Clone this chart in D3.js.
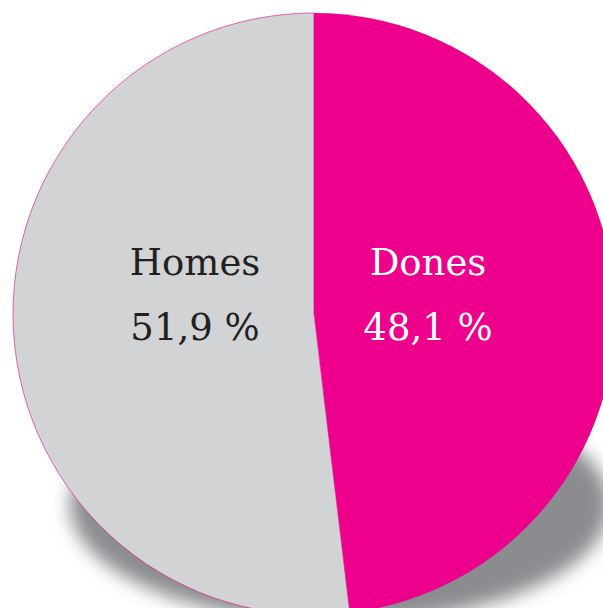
<!DOCTYPE html>
<html>
<head>
<meta charset="utf-8">
<script src="https://cdn.jsdelivr.net/npm/d3@7"></script>
<style>
  html, body { margin: 0; padding: 0; background: #fff; }
</style>
</head>
<body>
<div id="chart"></div>
<script>
const categories = ["Dones", "Homes"]
const values = [48.1, 51.9]
const valueLabels = ["48,1 %", "51,9 %"]
const colors = ["#ec008c", "#d1d3d4"]
const textColors = ["#ffffff", "#231f20"]

const width = 603
const height = 608
const cx = 314, cy = 314, radius = 301

const svg = d3.select("#chart").append("svg")
    .attr("width", width)
    .attr("height", height)

const defs = svg.append("defs")
defs.append("filter")
    .attr("id", "blur")
    .attr("x", "-30%").attr("y", "-30%")
    .attr("width", "160%").attr("height", "160%")
  .append("feGaussianBlur")
    .attr("stdDeviation", 9)

// drop shadow under the pie
svg.append("ellipse")
    .attr("cx", 340).attr("cy", 505)
    .attr("rx", 270).attr("ry", 118)
    .attr("fill", "#8a8c8f")
    .attr("filter", "url(#blur)")

const pie = d3.pie().sort(null).value(d => d)
const arc = d3.arc().innerRadius(0).outerRadius(radius)

const g = svg.append("g")
    .attr("transform", `translate(${cx},${cy})`)

const arcs = pie(values)

g.selectAll("path").data(arcs).enter().append("path")
    .attr("d", arc)
    .attr("fill", (d, i) => colors[i])
    .attr("stroke", (d, i) => i === 1 ? "#ec008c" : "none")
    .attr("stroke-width", 0.6)

// labels
const labelX = d3.scaleOrdinal().domain(categories).range([114, -119])

categories.forEach((c, i) => {
    const t = g.append("text")
        .attr("text-anchor", "middle")
        .attr("fill", textColors[i])
        .style("font-family", "'DejaVu Serif', Georgia, serif")
        .style("font-size", "37px")
    t.append("tspan")
        .attr("x", labelX(c)).attr("y", -39)
        .text(c)
    t.append("tspan")
        .attr("x", labelX(c)).attr("y", 26)
        .text(valueLabels[i])
})
</script>
</body>
</html>
